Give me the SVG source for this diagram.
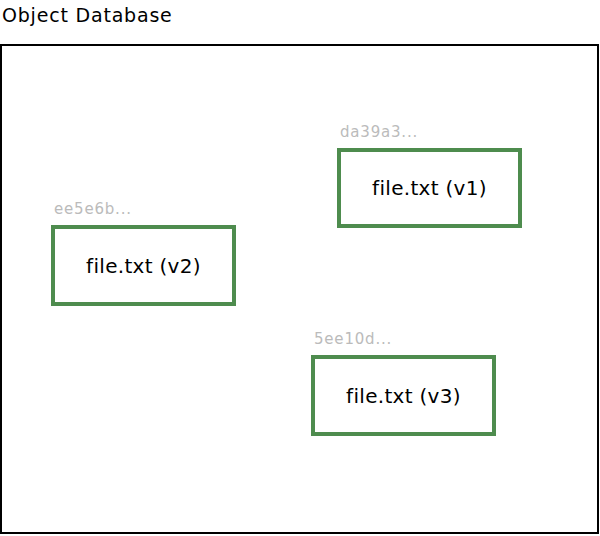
<svg xmlns="http://www.w3.org/2000/svg" width="600" height="536" viewBox="0 0 600 536">
<style>
text{font-family:"DejaVu Sans",sans-serif}
.t{font-size:19px;fill:#000;letter-spacing:0.8px}
.n{fill:#fff;stroke:#4e8c4e;stroke-width:4}
.l{font-size:20px;fill:#000;text-anchor:middle;letter-spacing:0.3px}
.h{font-size:15px;fill:#bbbbbb;letter-spacing:0.8px}
</style>
<rect width="600" height="536" fill="#fff"/>
<text class="t" x="2" y="22">Object Database</text>
<g id="db"><rect x="1" y="45" width="597" height="488" fill="none" stroke="#000" stroke-width="2"/></g>
<g id="v1"><rect class="n" x="339" y="150" width="181" height="76"/><text class="h" x="340" y="137">da39a3...</text><text class="l" x="429.5" y="195">file.txt (v1)</text></g>
<g id="v2"><rect class="n" x="53" y="227" width="181" height="77"/><text class="h" x="54" y="214">ee5e6b...</text><text class="l" x="143.5" y="273">file.txt (v2)</text></g>
<g id="v3"><rect class="n" x="313" y="357" width="181" height="77"/><text class="h" x="314" y="344">5ee10d...</text><text class="l" x="403.5" y="403">file.txt (v3)</text></g>
<g id="connectors"></g>
</svg>
